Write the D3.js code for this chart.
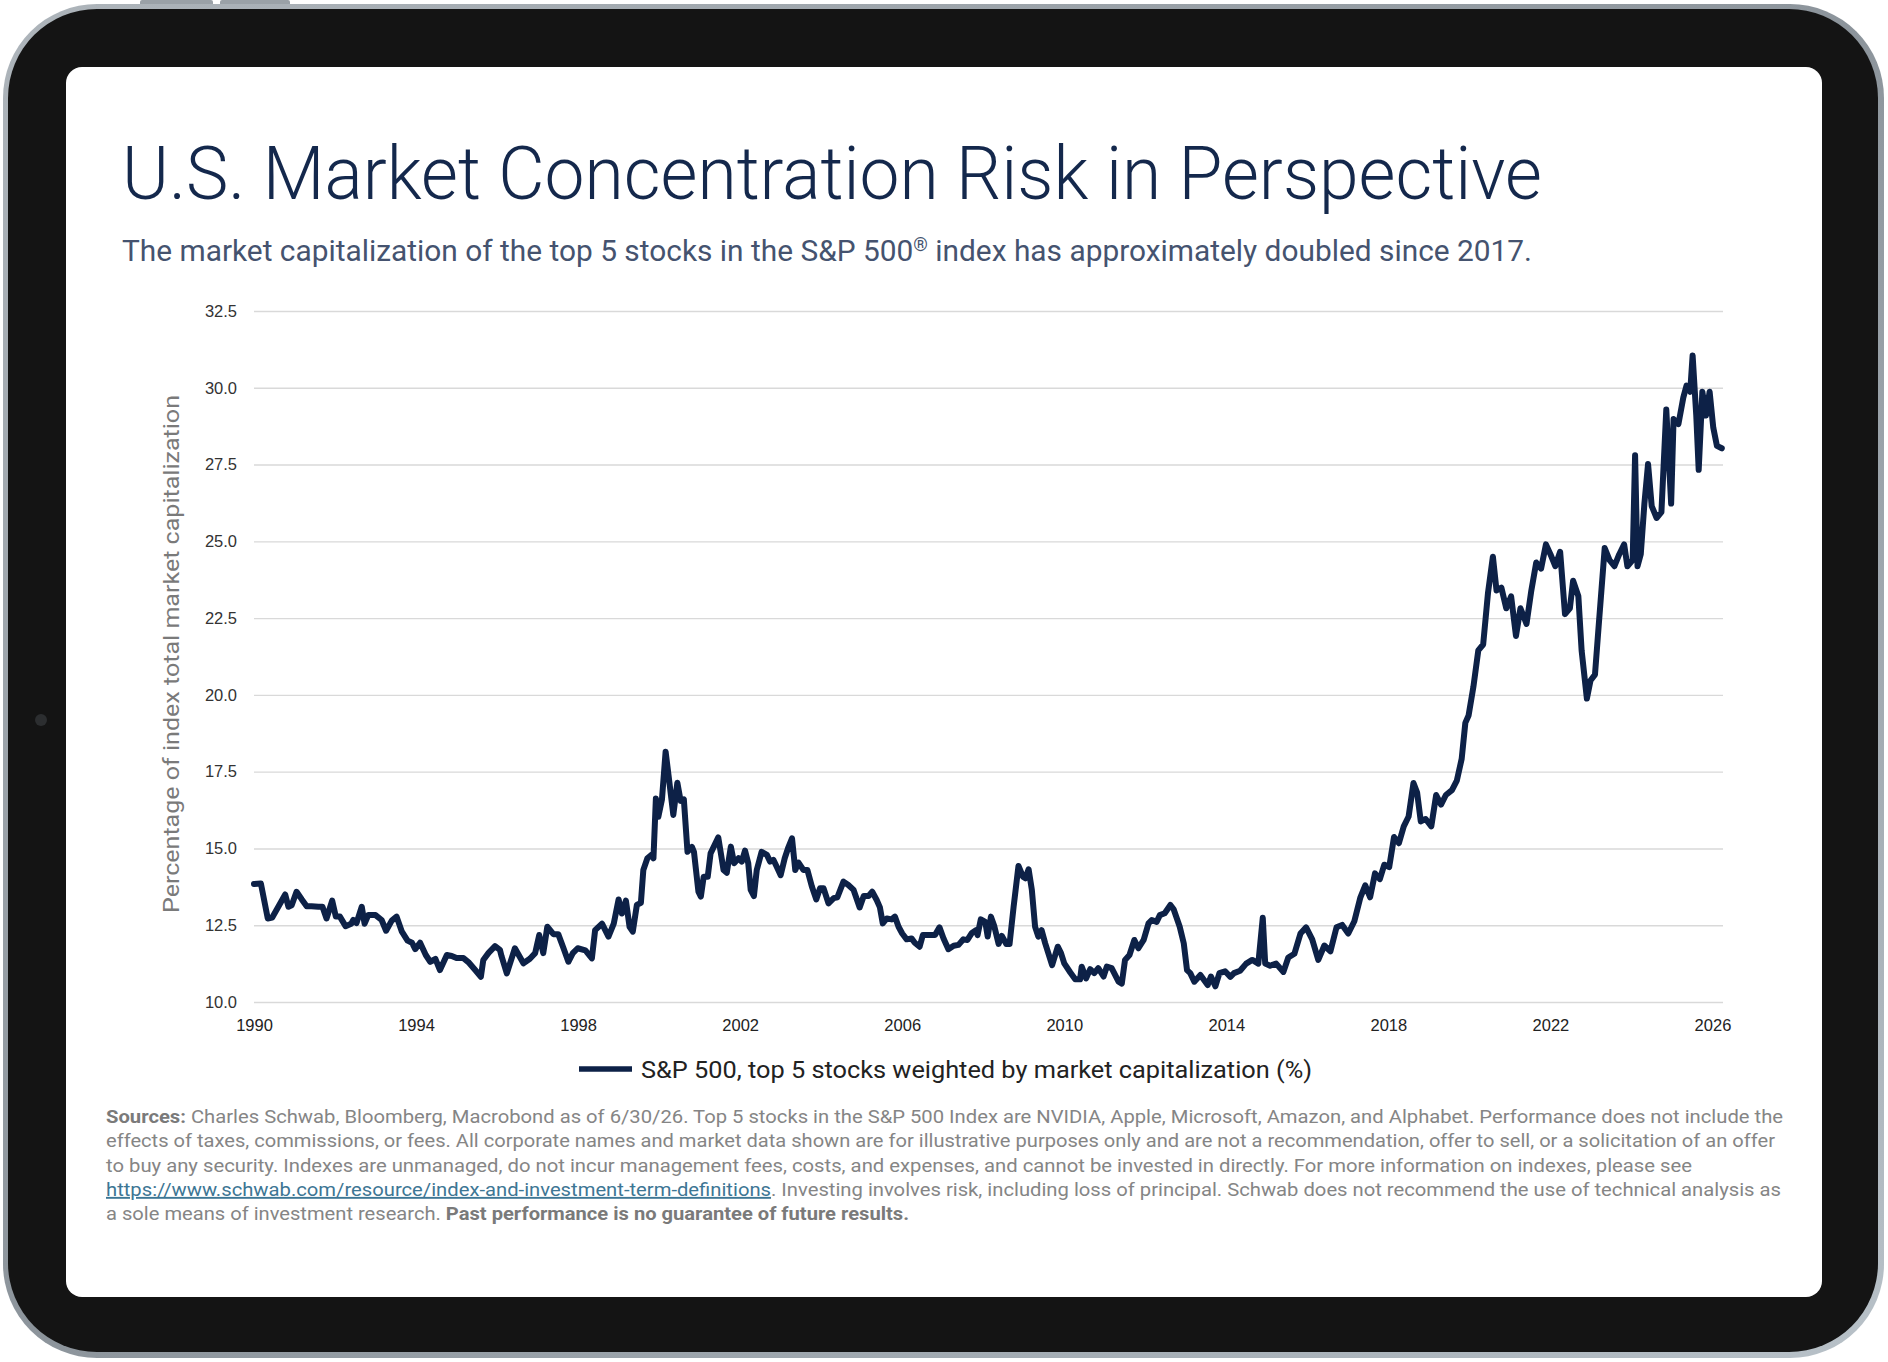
<!DOCTYPE html>
<html>
<head>
<meta charset="utf-8">
<script src="https://cdn.jsdelivr.net/npm/d3@7"></script>
<style>
  body { margin: 0; background: #fff; }
  svg { display: block; }
</style>
</head>
<body>
<div id="chart"></div>
<script>
// Data: decimal year -> % of S&P 500 cap in top 5 stocks
const obsYear = [
  1990.00, 1990.17, 1990.34, 1990.45, 1990.60, 1990.77, 1990.85, 1990.93, 1991.05, 1991.18,
  1991.30, 1991.42, 1991.59, 1991.69, 1991.79, 1991.93, 1992.02, 1992.12, 1992.26, 1992.40,
  1992.45, 1992.53, 1992.66, 1992.73, 1992.82, 1993.00, 1993.15, 1993.26, 1993.40, 1993.52,
  1993.65, 1993.79, 1993.90, 1993.98, 1994.10, 1994.24, 1994.35, 1994.48, 1994.59, 1994.76,
  1994.88, 1995.00, 1995.17, 1995.29, 1995.46, 1995.60, 1995.66, 1995.79, 1995.95, 1996.07,
  1996.11, 1996.24, 1996.44, 1996.65, 1996.81, 1996.94, 1997.04, 1997.14, 1997.24, 1997.39,
  1997.51, 1997.64, 1997.76, 1997.87, 1997.99, 1998.18, 1998.34, 1998.42, 1998.59, 1998.75,
  1998.88, 1999.00, 1999.08, 1999.18, 1999.27, 1999.35, 1999.45, 1999.55, 1999.61, 1999.71,
  1999.82, 1999.86, 1999.92, 1999.98, 2000.07, 2000.16, 2000.23, 2000.35, 2000.45, 2000.53,
  2000.61, 2000.70, 2000.81, 2000.86, 2000.97, 2001.03, 2001.10, 2001.20, 2001.27, 2001.46,
  2001.59, 2001.67, 2001.77, 2001.85, 2001.96, 2002.04, 2002.12, 2002.20, 2002.26, 2002.34,
  2002.41, 2002.53, 2002.66, 2002.74, 2002.82, 2002.90, 2003.00, 2003.10, 2003.18, 2003.28,
  2003.36, 2003.44, 2003.56, 2003.66, 2003.77, 2003.88, 2003.97, 2004.06, 2004.18, 2004.31,
  2004.40, 2004.55, 2004.67, 2004.80, 2004.95, 2005.05, 2005.17, 2005.26, 2005.37, 2005.45,
  2005.52, 2005.62, 2005.74, 2005.82, 2005.91, 2006.00, 2006.11, 2006.23, 2006.31, 2006.43,
  2006.51, 2006.65, 2006.81, 2006.92, 2007.02, 2007.14, 2007.27, 2007.39, 2007.51, 2007.61,
  2007.72, 2007.82, 2007.86, 2007.94, 2008.05, 2008.11, 2008.19, 2008.27, 2008.38, 2008.46,
  2008.57, 2008.65, 2008.75, 2008.87, 2008.98, 2009.04, 2009.12, 2009.20, 2009.28, 2009.36,
  2009.44, 2009.53, 2009.70, 2009.84, 2009.92, 2010.00, 2010.15, 2010.27, 2010.39, 2010.43,
  2010.54, 2010.64, 2010.74, 2010.84, 2010.97, 2011.05, 2011.17, 2011.34, 2011.42, 2011.50,
  2011.61, 2011.73, 2011.83, 2011.96, 2012.08, 2012.16, 2012.28, 2012.36, 2012.48, 2012.62,
  2012.70, 2012.85, 2012.95, 2013.03, 2013.11, 2013.21, 2013.36, 2013.54, 2013.62, 2013.73,
  2013.83, 2013.97, 2014.10, 2014.19, 2014.34, 2014.49, 2014.64, 2014.79, 2014.90, 2014.96,
  2015.08, 2015.23, 2015.41, 2015.53, 2015.68, 2015.83, 2015.97, 2016.12, 2016.27, 2016.42,
  2016.57, 2016.72, 2016.86, 2017.01, 2017.16, 2017.31, 2017.43, 2017.55, 2017.67, 2017.79,
  2017.90, 2018.02, 2018.14, 2018.26, 2018.38, 2018.50, 2018.62, 2018.71, 2018.80, 2018.92,
  2019.06, 2019.18, 2019.30, 2019.42, 2019.57, 2019.69, 2019.81, 2019.90, 2019.98, 2020.10,
  2020.22, 2020.34, 2020.46, 2020.58, 2020.67, 2020.79, 2020.91, 2021.03, 2021.15, 2021.26,
  2021.41, 2021.53, 2021.65, 2021.77, 2021.89, 2022.00, 2022.12, 2022.24, 2022.36, 2022.48,
  2022.56, 2022.69, 2022.77, 2022.90, 2022.99, 2023.10, 2023.19, 2023.34, 2023.46, 2023.58,
  2023.70, 2023.82, 2023.90, 2024.03, 2024.09, 2024.15, 2024.23, 2024.32, 2024.41, 2024.50,
  2024.62, 2024.74, 2024.86, 2024.98, 2025.04, 2025.16, 2025.28, 2025.36, 2025.45, 2025.51,
  2025.60, 2025.66, 2025.75, 2025.84, 2025.93, 2026.02, 2026.11, 2026.23
];
const topFiveShare = [
  13.84, 13.86, 12.72, 12.75, 13.10, 13.50, 13.10, 13.15, 13.59, 13.34,
  13.12, 13.12, 13.10, 13.10, 12.72, 13.30, 12.78, 12.78, 12.47, 12.55,
  12.67, 12.57, 13.10, 12.55, 12.83, 12.83, 12.67, 12.32, 12.65, 12.78,
  12.29, 12.00, 11.93, 11.72, 11.93, 11.53, 11.31, 11.40, 11.04, 11.53,
  11.50, 11.43, 11.43, 11.30, 11.04, 10.82, 11.37, 11.60, 11.82, 11.70,
  11.49, 10.93, 11.75, 11.26, 11.41, 11.59, 12.18, 11.59, 12.45, 12.21,
  12.21, 11.75, 11.31, 11.59, 11.75, 11.68, 11.42, 12.34, 12.55, 12.13,
  12.55, 13.34, 12.88, 13.30, 12.45, 12.29, 13.16, 13.23, 14.30, 14.68,
  14.80, 14.68, 16.63, 16.03, 16.60, 18.15, 17.40, 16.09, 17.14, 16.55,
  16.60, 14.89, 15.05, 14.89, 13.59, 13.43, 14.08, 14.08, 14.84, 15.36,
  14.30, 14.21, 15.06, 14.52, 14.68, 14.57, 14.93, 14.52, 13.65, 13.45,
  14.30, 14.89, 14.79, 14.57, 14.63, 14.41, 14.13, 14.68, 15.00, 15.33,
  14.30, 14.54, 14.30, 14.30, 13.76, 13.34, 13.70, 13.70, 13.21, 13.38,
  13.41, 13.92, 13.81, 13.65, 13.08, 13.45, 13.45, 13.59, 13.32, 13.08,
  12.56, 12.72, 12.69, 12.78, 12.45, 12.23, 12.04, 12.07, 11.93, 11.80,
  12.18, 12.18, 12.18, 12.43, 12.07, 11.72, 11.83, 11.86, 12.04, 12.02,
  12.25, 12.34, 12.18, 12.69, 12.61, 12.13, 12.78, 12.48, 11.89, 12.15,
  11.89, 11.89, 13.10, 14.43, 14.08, 14.03, 14.32, 13.65, 12.45, 12.13,
  12.34, 11.91, 11.20, 11.80, 11.59, 11.26, 10.96, 10.74, 10.74, 11.15,
  10.77, 11.07, 10.94, 11.10, 10.83, 11.15, 11.10, 10.66, 10.60, 11.37,
  11.53, 12.02, 11.75, 12.02, 12.56, 12.67, 12.61, 12.83, 12.89, 13.16,
  13.02, 12.45, 11.91, 11.04, 10.94, 10.66, 10.88, 10.55, 10.83, 10.51,
  10.94, 11.00, 10.82, 10.94, 11.02, 11.25, 11.37, 11.25, 12.74, 11.25,
  11.18, 11.25, 10.98, 11.45, 11.57, 12.23, 12.43, 12.04, 11.37, 11.84,
  11.65, 12.43, 12.51, 12.23, 12.63, 13.41, 13.80, 13.41, 14.19, 14.00,
  14.47, 14.39, 15.37, 15.17, 15.72, 16.04, 17.13, 16.82, 15.88, 15.96,
  15.72, 16.74, 16.43, 16.74, 16.90, 17.21, 17.92, 19.09, 19.33, 20.27,
  21.45, 21.64, 23.33, 24.50, 23.40, 23.49, 22.82, 23.21, 21.92, 22.82,
  22.31, 23.41, 24.31, 24.11, 24.90, 24.58, 24.19, 24.66, 22.63, 22.82,
  23.72, 23.21, 21.45, 19.88, 20.47, 20.66, 22.23, 24.78, 24.39, 24.19,
  24.58, 24.90, 24.19, 24.39, 27.80, 24.19, 24.58, 26.23, 27.52, 26.15,
  25.76, 25.95, 29.29, 26.23, 28.98, 28.82, 29.68, 30.07, 29.87, 31.05,
  29.10, 27.33, 29.87, 29.10, 29.87, 28.70, 28.11, 28.03
];

const xTicks = [1990, 1994, 1998, 2002, 2006, 2010, 2014, 2018, 2022, 2026];
const yTicks = [10, 12.5, 15, 17.5, 20, 22.5, 25, 27.5, 30, 32.5];

const titleText = "U.S. Market Concentration Risk in Perspective";
const yLabel = "Percentage of index total market capitalization";
const legendLabel = "S&P 500, top 5 stocks weighted by market capitalization (%)";

const W = 1888, H = 1362;
const navy = "#0d2147";

const svg = d3.select("#chart").append("svg")
    .attr("width", W)
    .attr("height", H)
    .attr("viewBox", `0 0 ${W} ${H}`);

// --- tablet frame ---
const defs = svg.append("defs");
const rim = defs.append("linearGradient").attr("id", "rim")
    .attr("x1", 0).attr("y1", 0).attr("x2", 1).attr("y2", 1);
rim.append("stop").attr("offset", "0%").attr("stop-color", "#aeb5bb");
rim.append("stop").attr("offset", "50%").attr("stop-color", "#8c949b");
rim.append("stop").attr("offset", "100%").attr("stop-color", "#b8c1c8");

// top buttons
svg.append("rect").attr("x", 140).attr("y", 0).attr("width", 73).attr("height", 7).attr("rx", 2).attr("fill", "#9aa1a7");
svg.append("rect").attr("x", 220).attr("y", 0).attr("width", 70).attr("height", 7).attr("rx", 2).attr("fill", "#9aa1a7");

svg.append("rect")
    .attr("x", 3).attr("y", 4).attr("width", 1881).attr("height", 1354)
    .attr("rx", 94).attr("fill", "url(#rim)");
svg.append("rect")
    .attr("x", 8).attr("y", 9).attr("width", 1870).attr("height", 1343)
    .attr("rx", 89).attr("fill", "#141414");
svg.append("rect")
    .attr("x", 66).attr("y", 67).attr("width", 1756).attr("height", 1230)
    .attr("rx", 16).attr("fill", "#ffffff");
// camera dot
svg.append("circle").attr("cx", 41).attr("cy", 720).attr("r", 6).attr("fill", "#2c2e30");

// --- titles ---
svg.append("text")
    .attr("x", 122).attr("y", 199)
    .attr("font-family", "Roboto, 'Noto Sans', sans-serif")
    .attr("font-weight", 300)
    .attr("font-size", 74)
    .attr("fill", "#14284c")
    .attr("textLength", 1420)
    .attr("lengthAdjust", "spacingAndGlyphs")
    .text(titleText);

const sub = svg.append("text")
    .attr("x", 122).attr("y", 261)
    .attr("font-family", "Roboto, 'Noto Sans', sans-serif")
    .attr("font-weight", 400)
    .attr("font-size", 29)
    .attr("fill", "#45536f")
    .attr("textLength", 1410)
    .attr("lengthAdjust", "spacingAndGlyphs");
sub.append("tspan").text("The market capitalization of the top 5 stocks in the S&P 500");
sub.append("tspan").attr("font-size", 18).attr("dy", -10).text("®");
sub.append("tspan").attr("dy", 10).text(" index has approximately doubled since 2017.");

// --- chart ---
const x = d3.scaleLinear().domain([1990, 2026.26]).range([254, 1723]);
const y = d3.scaleLinear().domain([10, 32.5]).range([1002, 311]);

const gy = svg.append("g")
    .attr("transform", `translate(${x.range()[0]},0)`)
    .call(d3.axisLeft(y)
        .tickValues(yTicks)
        .tickFormat(d3.format(".1f"))
        .tickSize(-(x.range()[1] - x.range()[0]))
        .tickPadding(17));
gy.select(".domain").remove();
gy.selectAll(".tick line").attr("stroke", "#d9d9d9").attr("stroke-width", 1.4);
gy.selectAll(".tick text")
    .attr("font-family", "'Liberation Sans', Arial, sans-serif")
    .attr("font-size", 16.5)
    .attr("fill", "#333");

const gx = svg.append("g")
    .attr("transform", `translate(0,${y(10)})`)
    .call(d3.axisBottom(x)
        .tickValues(xTicks)
        .tickFormat(d3.format("d"))
        .tickSize(0)
        .tickPadding(17));
gx.select(".domain").remove();
gx.selectAll(".tick text")
    .attr("font-family", "'Liberation Sans', Arial, sans-serif")
    .attr("font-size", 16.5)
    .attr("fill", "#222");

svg.append("text")
    .attr("transform", "translate(179,654) rotate(-90)")
    .attr("text-anchor", "middle")
    .attr("font-family", "Roboto, 'Noto Sans', sans-serif")
    .attr("font-size", 22)
    .attr("fill", "#7a7a7a")
    .attr("textLength", 518)
    .attr("lengthAdjust", "spacingAndGlyphs")
    .text(yLabel);

const series = obsYear.map((t, i) => ({ t: t, v: topFiveShare[i] }));
const line = d3.line().x(d => x(d.t)).y(d => y(d.v));

svg.append("path")
    .datum(series)
    .attr("d", line)
    .attr("fill", "none")
    .attr("stroke", navy)
    .attr("stroke-width", 6)
    .attr("stroke-linejoin", "round")
    .attr("stroke-linecap", "round");

// legend
svg.append("line")
    .attr("x1", 579).attr("x2", 632).attr("y1", 1069).attr("y2", 1069)
    .attr("stroke", navy).attr("stroke-width", 5.5);
svg.append("text")
    .attr("x", 641).attr("y", 1078)
    .attr("font-family", "Roboto, 'Noto Sans', sans-serif")
    .attr("font-size", 24)
    .attr("fill", "#222")
    .attr("textLength", 671)
    .attr("lengthAdjust", "spacingAndGlyphs")
    .text(legendLabel);

// --- footnote ---
const noteLines = [
  { w: 1677, parts: [["b", "Sources:"], ["n", " Charles Schwab, Bloomberg, Macrobond as of 6/30/26. Top 5 stocks in the S&P 500 Index are NVIDIA, Apple, Microsoft, Amazon, and Alphabet. Performance does not include the"]] },
  { w: 1669, parts: [["n", "effects of taxes, commissions, or fees. All corporate names and market data shown are for illustrative purposes only and are not a recommendation, offer to sell, or a solicitation of an offer"]] },
  { w: 1586, parts: [["n", "to buy any security. Indexes are unmanaged, do not incur management fees, costs, and expenses, and cannot be invested in directly. For more information on indexes, please see"]] },
  { w: 1675, parts: [["a", "https://www.schwab.com/resource/index-and-investment-term-definitions"], ["n", ". Investing involves risk, including loss of principal. Schwab does not recommend the use of technical analysis as"]] },
  { w: 803, parts: [["n", "a sole means of investment research. "], ["b", "Past performance is no guarantee of future results."]] }
];

noteLines.forEach((ln, i) => {
    const t = svg.append("text")
        .attr("x", 106).attr("y", 1123 + i * 24.3)
        .attr("font-family", "Roboto, 'Noto Sans', sans-serif")
        .attr("font-size", 19)
        .attr("fill", "#858585")
        .attr("textLength", ln.w)
        .attr("lengthAdjust", "spacingAndGlyphs");
    ln.parts.forEach(([kind, str]) => {
        const s = t.append("tspan").text(str);
        if (kind === "b") s.attr("font-weight", 700).attr("fill", "#7a7a7a");
        if (kind === "a") s.attr("fill", "#3d7694").attr("text-decoration", "underline");
    });
});
</script>
</body>
</html>
